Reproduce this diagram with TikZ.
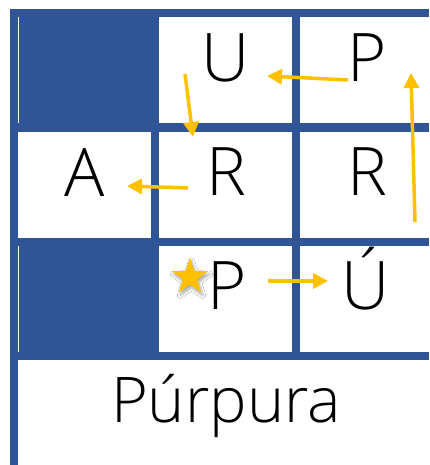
\documentclass[tikz,border=0pt]{standalone}
\usepackage{fontspec}
\setmainfont{Open Sans Light}
\usetikzlibrary{arrows.meta,shapes.geometric,shadows.blur}
\definecolor{gridblue}{HTML}{2F5597}
\definecolor{gold}{HTML}{FFC000}
\tikzset{
  cellw/.style={fill=white},
  letter/.style={anchor=base, inner sep=0pt, font=\fontsize{67}{70}\selectfont},
  goldarrow/.style={draw=gold, line width=3.5pt, -{Triangle[length=15pt,width=15pt]}},
}
\begin{document}
\begin{tikzpicture}[x=1pt,y=1pt]
\useasboundingbox (0,0) rectangle (429,465);
% blue frame / grid background
\fill[gridblue] (10,0) rectangle (429,456);
% white cells (x px, y flipped)
\fill[cellw] (158.5,342) rectangle (292,448);
\fill[cellw] (300,342) rectangle (429,448);
\fill[cellw] (18,227) rectangle (151,333);
\fill[cellw] (159,227) rectangle (292,333);
\fill[cellw] (300,227) rectangle (429,333);
\fill[cellw] (159,113) rectangle (292,219);
\fill[cellw] (300,113) rectangle (429,219);
\fill[cellw] (18,0) rectangle (429,105);
% hairlines in dark cells
\draw[white, line width=0.6pt] (18.5,342) -- (18.5,448);
\draw[white, line width=0.6pt] (18.5,113) -- (18.5,219);
% letters
\node[letter] (u1) at (226,383) {U};
\node[letter] (p1) at (367,383) {P};
\node[letter] (a2) at (84.5,268) {A};
\node[letter] (r2) at (226,269) {R};
\node[letter] (r3) at (367,269) {R};
\node[letter] (p3) at (227,155) {P};
\node[letter] (u3) at (366,155) {Ú};
\node[letter, font=\fontsize{63}{66}\selectfont] (word) at (226,42) {Púrpura};
% star
\node[star, star points=5, star point ratio=2.5, minimum size=38pt, inner sep=0pt,
      fill=gold, blur shadow={shadow xshift=1.5pt, shadow yshift=-3pt, shadow opacity=35,
      shadow blur radius=3pt, shadow blur steps=6}]
      (st) at (190,188) {};
% arrow end points
\coordinate (a1s) at (348,385); \coordinate (a1e) at (267,389);
\coordinate (a2s) at (185,391); \coordinate (a2e) at (193,328);
\coordinate (a3s) at (188,277); \coordinate (a3e) at (127,279);
\coordinate (a4s) at (415,243); \coordinate (a4e) at (411,392);
\coordinate (a5s) at (268,184); \coordinate (a5e) at (328,184);
\draw[goldarrow] (a1s) -- (a1e);
\draw[goldarrow] (a2s) -- (a2e);
\draw[goldarrow] (a3s) -- (a3e);
\draw[goldarrow] (a4s) -- (a4e);
\draw[goldarrow] (a5s) -- (a5e);
\end{tikzpicture}
\end{document}
